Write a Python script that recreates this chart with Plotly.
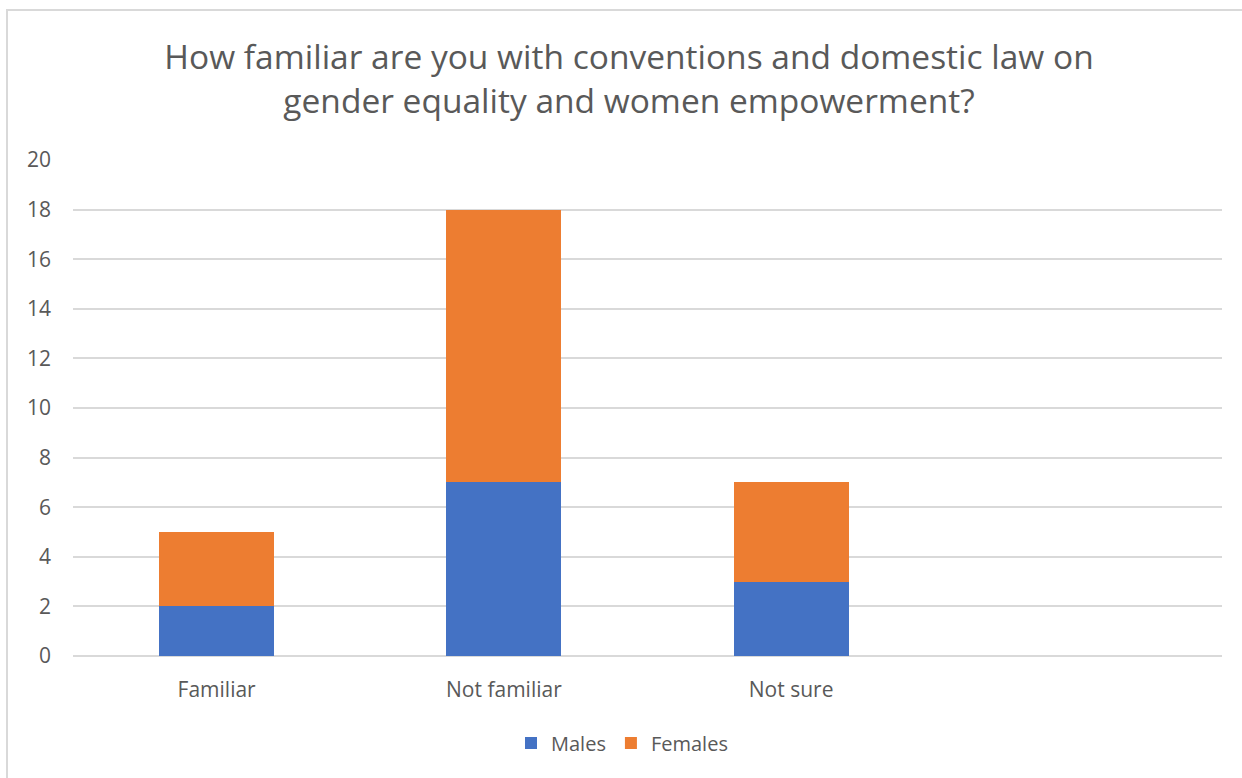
import plotly.graph_objects as go

categories = ["Familiar", "Not familiar", "Not sure", " "]
males = [2, 7, 3, None]
females = [3, 11, 4, None]
y_ticks = [0, 2, 4, 6, 8, 10, 12, 14, 16, 18, 20]
title_text = "How familiar are you with conventions and domestic law on<br>gender equality and women empowerment?"

W, H = 1242, 778
L, R, T, B = 73, 20, 160, 122
FONT = "Open Sans"
TXT = "#595959"

fig = go.Figure()
fig.add_trace(go.Bar(name="Males", x=categories, y=males, marker_color="#4472C4",
                     marker_line_width=0))
fig.add_trace(go.Bar(name="Females", x=categories, y=females, marker_color="#ED7D31",
                     marker_line_width=0))

pw = W - L - R
ph = H - T - B
fig.add_shape(type="rect", xref="paper", yref="paper",
              x0=(7 - L) / pw, x1=(1260 - L) / pw,
              y0=(H - T - 800) / ph, y1=(H - B - 10) / ph,
              line=dict(color="#d9d9d9", width=2), fillcolor="rgba(0,0,0,0)", layer="below")

fig.update_layout(
    width=W, height=H,
    margin=dict(l=L, r=R, t=T, b=B),
    barmode="stack",
    bargap=0.6,
    paper_bgcolor="white",
    plot_bgcolor="white",
    font=dict(family=FONT, color=TXT),
    title=dict(text=title_text, xref="container", yref="container",
               x=629 / W, xanchor="center", y=1 - 69 / H, yanchor="middle",
               font=dict(family=FONT, size=33.5, color=TXT)),
    legend=dict(orientation="h", xref="container", yref="container",
                x=622 / W, xanchor="center", y=1 - 743 / H, yanchor="middle",
                font=dict(size=20, color=TXT), itemwidth=30, traceorder="normal"),
    xaxis=dict(showgrid=False, showline=False, zeroline=False, ticks="",
               tickfont=dict(size=21, color=TXT), ticklabelstandoff=19),
    yaxis=dict(range=[0, 20], tickvals=y_ticks, showgrid=True, gridcolor="#d9d9d9",
               gridwidth=1.5, zeroline=True, zerolinecolor="#d9d9d9", zerolinewidth=1.5,
               showline=False, ticks="", tickfont=dict(size=21, color=TXT),
               ticklabelstandoff=21),
)

fig.write_html("out.html")
